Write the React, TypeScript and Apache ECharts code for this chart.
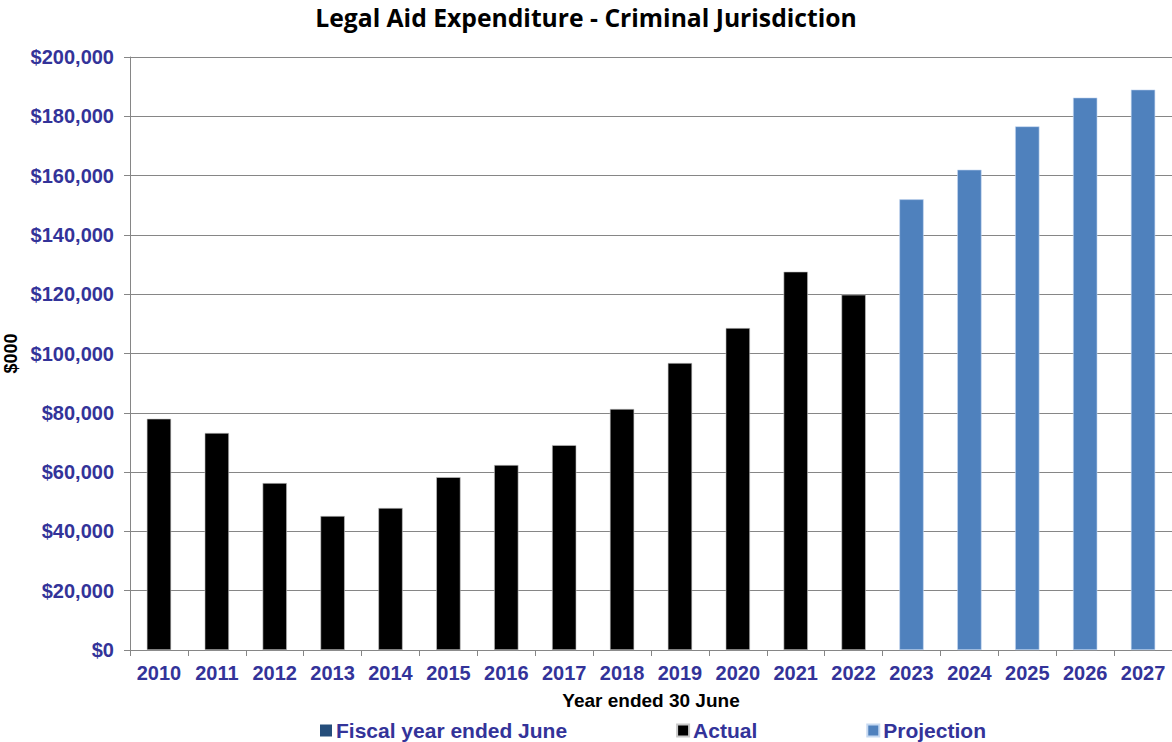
import React, { useEffect, useRef } from "react";
import * as echarts from "echarts";

const years = ["2010","2011","2012","2013","2014","2015","2016","2017","2018","2019","2020","2021","2022","2023","2024","2025","2026","2027"];
const actual = [78000, 73200, 56300, 45200, 47900, 58300, 62400, 69100, 81300, 96800, 108600, 127600, 119800, null, null, null, null, null];
const projection = [null, null, null, null, null, null, null, null, null, null, null, null, null, 152000, 162000, 176600, 186300, 189000];
const fiscal = years.map(() => null);
const yTicks = [0, 20000, 40000, 60000, 80000, 100000, 120000, 140000, 160000, 180000, 200000];

const labelColor = "#333399";
const font = "'Liberation Sans', Arial, sans-serif";

export default function App() {
  const ref = useRef<HTMLDivElement>(null);
  useEffect(() => {
    const chart = echarts.init(ref.current!, null, { renderer: "svg" });
    chart.setOption({
      animation: false,
      backgroundColor: "#ffffff",
      title: {
        text: "Legal Aid Expenditure - Criminal Jurisdiction",
        left: "center",
        top: 0,
        textStyle: { fontFamily: "'Open Sans', 'Noto Sans', sans-serif", fontWeight: "bold", fontSize: 24.7, color: "#000" },
      },
      legend: {
        left: 320,
        top: 720,
        padding: 0,
        itemGap: 109,
        itemWidth: 12,
        itemHeight: 12,
        icon: "rect",
        textStyle: { fontFamily: font, fontWeight: "bold", fontSize: 21, color: labelColor, padding: [0, 0, 0, -1] },
        data: ["Fiscal year ended June", "Actual", "Projection"],
      },
      grid: { left: 130, right: 0, top: 57, bottom: 92, containLabel: false, outerBoundsMode: "none" },
      xAxis: {
        type: "category",
        data: years,
        name: "Year ended 30 June",
        nameLocation: "middle",
        nameGap: 41,
        nameTextStyle: { fontFamily: font, fontWeight: "bold", fontSize: 19, color: "#000" },
        axisLine: { lineStyle: { color: "#868686" } },
        axisTick: { show: true, alignWithLabel: false, length: 6, lineStyle: { color: "#868686" } },
        axisLabel: { fontFamily: font, fontWeight: "bold", fontSize: 20, color: labelColor, margin: 13, interval: 0 },
      },
      yAxis: {
        type: "value",
        min: 0,
        max: 200000,
        interval: 20000,
        name: "$000",
        nameLocation: "middle",
        nameGap: 102,
        nameTextStyle: { fontFamily: font, fontWeight: "bold", fontSize: 18, color: "#000" },
        axisLine: { show: true, lineStyle: { color: "#868686" } },
        axisTick: { show: true, length: 6, lineStyle: { color: "#868686" } },
        splitLine: { lineStyle: { color: "#868686", width: 1 } },
        axisLabel: {
          fontFamily: font,
          fontWeight: "bold",
          fontSize: 20,
          color: labelColor,
          margin: 16,
          formatter: (v: number) => (yTicks.includes(v) ? "$" + v.toLocaleString("en-US") : ""),
        },
      },
      series: [
        {
          name: "Fiscal year ended June",
          type: "bar",
          stack: "all",
          barWidth: "42%",
          data: fiscal,
          itemStyle: { color: "#254E7B" },
        },
        {
          name: "Actual",
          type: "bar",
          stack: "all",
          barWidth: "42%",
          data: actual,
          itemStyle: { color: "#000000", borderColor: "#c8c8c8", borderWidth: 0.6 },
        },
        {
          name: "Projection",
          type: "bar",
          stack: "all",
          barWidth: "42%",
          data: projection,
          itemStyle: { color: "#4F81BD", borderColor: "#c6d9f1", borderWidth: 0.6 },
        },
      ],
    });
    return () => chart.dispose();
  }, []);
  return <div ref={ref} style={{ position: "absolute", left: 0, top: 0, width: 1172, height: 742 }} />;
}
